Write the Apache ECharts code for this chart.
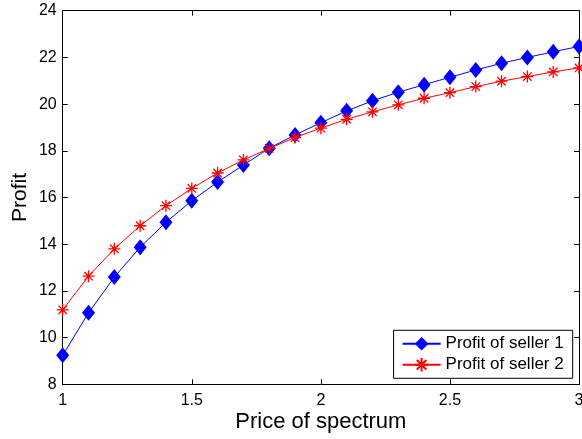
<!DOCTYPE html>
<html>
<head>
<meta charset="utf-8">
<script src="https://cdn.jsdelivr.net/npm/echarts@6/dist/echarts.min.js"></script>
<style>
  html, body { margin: 0; padding: 0; background: #fff; }
  #chart { width: 582px; height: 439px; }
</style>
</head>
<body>
<div id="chart"></div>
<script>
// Price of spectrum (x) and the resulting profit of each seller
const prices = [1.0, 1.1, 1.2, 1.3, 1.4, 1.5, 1.6, 1.7, 1.8, 1.9, 2.0,
                2.1, 2.2, 2.3, 2.4, 2.5, 2.6, 2.7, 2.8, 2.9, 3.0];
const seller1 = [9.24, 11.06, 12.59, 13.87, 14.94, 15.86, 16.66, 17.39, 18.11, 18.68, 19.2,
                 19.71, 20.14, 20.51, 20.83, 21.15, 21.46, 21.75, 22.0, 22.24, 22.47];
const seller2 = [11.19, 12.63, 13.8, 14.79, 15.65, 16.39, 17.05, 17.61, 18.1, 18.57, 18.97,
                 19.35, 19.67, 19.97, 20.25, 20.49, 20.75, 20.98, 21.18, 21.38, 21.55];
const seriesNames = ['Profit of seller 1', 'Profit of seller 2'];
const xTicks = [1, 1.5, 2, 2.5, 3];
const yTicks = [8, 10, 12, 14, 16, 18, 20, 22, 24];

const FONT = 'Liberation Sans, Arial, Helvetica, sans-serif';
const asterisk = 'path://M0,-1L0,1M-1,0L1,0M-0.7,-0.7L0.7,0.7M-0.7,0.7L0.7,-0.7';

const chart = echarts.init(document.getElementById('chart'), null, { renderer: 'canvas' });

const tickStyle = { inside: true, length: 5, lineStyle: { color: '#000', width: 1 } };
const lineStyle = { lineStyle: { color: '#000', width: 1 } };

chart.setOption({
  animation: false,
  backgroundColor: '#fff',
  grid: {
    left: 62.7, right: 3, top: 10.7, bottom: 54.7,
    containLabel: false,
    outerBoundsMode: 'none'
  },
  legend: {
    orient: 'vertical',
    right: 9.3,
    bottom: 60.7,
    backgroundColor: '#fff',
    borderColor: '#000',
    borderWidth: 1,
    borderRadius: 0,
    padding: [5, 9, 5, 8],
    itemGap: 4,
    itemWidth: 38,
    itemHeight: 17,
    textStyle: { fontFamily: FONT, fontSize: 17, color: '#000' },
    data: seriesNames
  },
  xAxis: [{
    type: 'value', min: 1, max: 3, interval: 0.5,
    position: 'bottom',
    axisLine: lineStyle, axisTick: tickStyle, splitLine: { show: false },
    axisLabel: {
      fontFamily: FONT, fontSize: 16, color: '#000', margin: 8,
      formatter: v => xTicks.includes(v) ? String(v) : ''
    },
    name: 'Price of spectrum', nameLocation: 'middle', nameGap: 27,
    nameMoveOverlap: false,
    nameTextStyle: { fontFamily: FONT, fontSize: 22, color: '#000' }
  }, {
    type: 'value', min: 1, max: 3, interval: 0.5,
    position: 'top',
    axisLine: lineStyle, axisTick: tickStyle, splitLine: { show: false },
    axisLabel: { show: false }
  }],
  yAxis: [{
    type: 'value', min: 8, max: 24, interval: 2,
    position: 'left',
    axisLine: lineStyle, axisTick: tickStyle, splitLine: { show: false },
    axisLabel: {
      fontFamily: FONT, fontSize: 16, color: '#000', margin: 6,
      formatter: v => yTicks.includes(v) ? String(v) : ''
    },
    name: 'Profit', nameLocation: 'middle', nameGap: 32,
    nameMoveOverlap: false,
    nameTextStyle: { fontFamily: FONT, fontSize: 21, color: '#000' }
  }, {
    type: 'value', min: 8, max: 24, interval: 2,
    position: 'right',
    axisLine: lineStyle, axisTick: tickStyle, splitLine: { show: false },
    axisLabel: { show: false }
  }],
  series: [{
    name: seriesNames[0],
    type: 'line',
    data: prices.map((p, i) => [p, seller1[i]]),
    symbol: 'diamond',
    symbolSize: [13, 16],
    showAllSymbol: true,
    lineStyle: { color: '#0000ff', width: 1 },
    itemStyle: { color: '#0000ff', borderWidth: 0 },
    z: 2
  }, {
    name: seriesNames[1],
    type: 'line',
    data: prices.map((p, i) => [p, seller2[i]]),
    symbol: asterisk,
    symbolSize: 12,
    showAllSymbol: true,
    lineStyle: { color: '#ff0000', width: 1 },
    itemStyle: { color: '#ff0000', borderColor: '#ff0000', borderWidth: 1.3 },
    z: 3
  }]
});
</script>
</body>
</html>
